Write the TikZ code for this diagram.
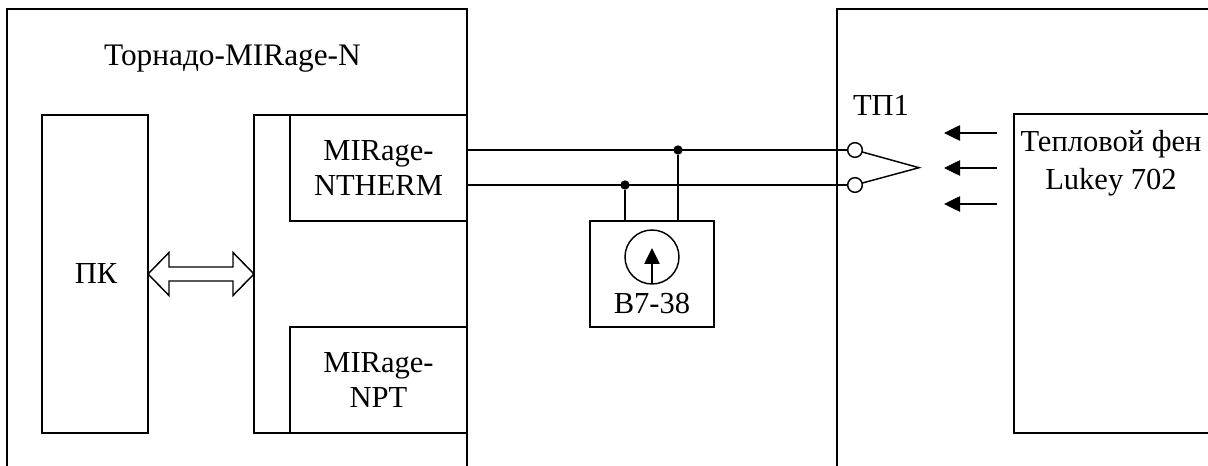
\documentclass[tikz,border=0pt]{standalone}
\usepackage{fontspec}
\setmainfont{Liberation Serif}
\usetikzlibrary{arrows.meta}
\tikzset{
  x=0.75pt,y=-0.75pt,
  wire/.style={draw=black,line width=1.1pt},
  heavywire/.style={draw=black,line width=1.3pt},
  boxnode/.style={wire,rectangle,inner sep=0pt,outer sep=0pt,anchor=north west},
  txt/.style={font=\fontsize{22.9}{26.5}\selectfont,align=center,inner sep=0pt},
  dot/.style={circle,fill=black,draw=none,minimum size=7pt,inner sep=0pt,outer sep=0pt},
  terminal/.style={circle,draw=black,line width=1.1pt,fill=white,minimum size=11pt,inner sep=0pt,outer sep=0pt},
  blowarrow/.style={draw=black,line width=1.1pt,-{Triangle[length=12pt,width=11.5pt]}},
}
\begin{document}
\begin{tikzpicture}
\useasboundingbox (0,0) rectangle (1208,466);
% outer frames, open at the bottom
\draw[wire] (7,466) -- (7,9) -- (467,9) -- (467,466);
\draw[wire] (837,466) -- (837,9) -- (1208,9);
\node[txt,font=\fontsize{23.5}{26.5}\selectfont] (title) at (232.5,59) {Торнадо-MIRage-N};
% PC
\node[boxnode,minimum width=79.5pt,minimum height=238.5pt] (pc) at (42,115) {};
\node[txt] (pclabel) at ([xshift=0.75pt]pc.center) {ПК};
% carrier and modules
\node[boxnode,minimum width=159.75pt,minimum height=238.5pt] (carrier) at (254,115) {};
\node[boxnode,heavywire,fill=white,minimum width=132.75pt,minimum height=79.5pt] (therm) at (290,115) {};
\node[txt] (thermlabel) at (therm.center) {MIRage-\\NTHERM};
\node[boxnode,heavywire,fill=white,minimum width=132.75pt,minimum height=79.5pt] (npt) at (290,327) {};
\node[txt] (nptlabel) at (npt.center) {MIRage-\\NPT};
% bus double arrow
\draw[wire,line join=miter] (pc.east) -- ++(21,-21.5) -- ++(0,14.5) -- ++(64,0) -- ++(0,-14.5)
  -- (carrier.west) -- ++(-21,21.5) -- ++(0,-14.5) -- ++(-64,0) -- ++(0,14.5) -- cycle;
% thermocouple
\node[terminal] (t1) at (855,150) {};
\node[terminal] (t2) at (855,185) {};
\coordinate (tip) at (919,167.7);
\draw[wire] (t1) -- (tip) -- (t2);
\coordinate (w1) at (467,150);
\coordinate (w2) at (467,185);
\draw[wire] (w1) -- (t1);
\draw[wire] (w2) -- (t2);
\node[txt] (tp) at (881,105) {ТП1};
% voltmeter
\node[boxnode,minimum width=93pt,minimum height=79.5pt] (meter) at (590,221) {};
\node[dot] (d1) at (678,150) {};
\node[dot] (d2) at (625,185) {};
\draw[wire] (d1) -- (d1 |- meter.north);
\draw[wire] (d2) -- (d2 |- meter.north);
\node[circle,wire,minimum size=40.5pt,inner sep=0pt,outer sep=0pt] (dial) at (652,257) {};
\draw[blowarrow] (dial.south) -- (652,248);
\node[txt] (meterlabel) at (652,303) {В7-38};
% fan
\draw[wire] (1208,114) -- (1014,114) -- (1014,433) -- (1208,433);
\node[txt] (fan1) at (1111,144) {Тепловой фен};
\node[txt] (fan2) at (1111,182) {Lukey 702};
\coordinate (a1) at (997,133);
\coordinate (a2) at (997,168);
\coordinate (a3) at (997,204);
\coordinate (b1) at (944,133);
\coordinate (b2) at (944,168);
\coordinate (b3) at (944,204);
\draw[blowarrow] (a1) -- (b1);
\draw[blowarrow] (a2) -- (b2);
\draw[blowarrow] (a3) -- (b3);
\end{tikzpicture}
\end{document}
